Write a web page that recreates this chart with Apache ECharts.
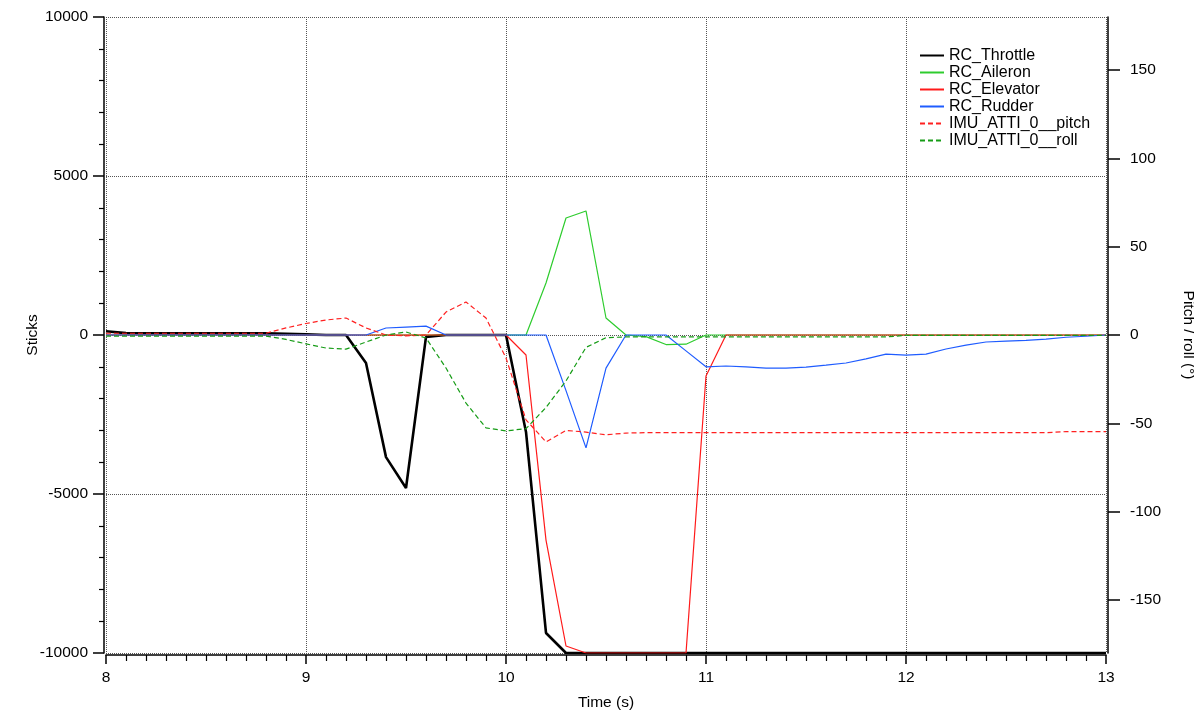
<!DOCTYPE html>
<html>
<head>
<meta charset="utf-8">
<script src="https://cdn.jsdelivr.net/npm/echarts@6/dist/echarts.min.js"></script>
<style>
  html, body { margin: 0; padding: 0; background: #fff; }
  #chart { width: 1194px; height: 711px; }
</style>
</head>
<body>
<div id="chart"></div>
<script>
// sample times (s)
const times = [
  8.0, 8.1, 8.2, 8.3, 8.4, 8.5, 8.6, 8.7, 8.8, 8.9,
  9.0, 9.1, 9.2, 9.3, 9.4, 9.5, 9.6, 9.7, 9.8, 9.9,
  10.0, 10.1, 10.2, 10.3, 10.4, 10.5, 10.6, 10.7, 10.8, 10.9,
  11.0, 11.1, 11.2, 11.3, 11.4, 11.5, 11.6, 11.7, 11.8, 11.9,
  12.0, 12.1, 12.2, 12.3, 12.4, 12.5, 12.6, 12.7, 12.8, 12.9,
  13.0
];

// sticks (left axis)
const rcThrottle = [
  120, 60, 50, 50, 50, 50, 50, 50, 50, 40,
  20, 0, 0, -880, -3840, -4810, -60, 0, 0, 0,
  0, -3050, -9370, -10000, -10000, -10000, -10000, -10000, -10000, -10000,
  -10000, -10000, -10000, -10000, -10000, -10000, -10000, -10000, -10000, -10000,
  -10000, -10000, -10000, -10000, -10000, -10000, -10000, -10000, -10000, -10000,
  -10000
];
const rcAileron = [
  0, 0, 0, 0, 0, 0, 0, 0, 0, 0,
  0, 0, 0, 0, 0, 0, 0, 0, 0, 0,
  0, 0, 1635, 3680, 3900, 535, 0, -50, -300, -290,
  0, 0, 0, 0, 0, 0, 0, 0, 0, 0,
  0, 0, 0, 0, 0, 0, 0, 0, 0, 0,
  0
];
const rcElevator = [
  0, 0, 0, 0, 0, 0, 0, 0, 0, 0,
  0, 0, 0, 0, 0, 0, 0, 0, 0, 0,
  0, -630, -6450, -9780, -10000, -10000, -10000, -10000, -10000, -10000,
  -1290, 0, 0, 0, 0, 0, 0, 0, 0, 0,
  0, 0, 0, 0, 0, 0, 0, 0, 0, 0,
  0
];
const rcRudder = [
  0, 0, 0, 0, 0, 0, 0, 0, 0, 0,
  0, 0, 0, 0, 220, 250, 280, 0, 0, 0,
  0, 0, 0, -1750, -3550, -1040, 0, 0, 0, -500,
  -1000, -975, -1000, -1040, -1040, -1010, -950, -880, -750, -600,
  -630, -600, -440, -320, -220, -190, -170, -130, -70, -40,
  0
];

// attitude (right axis, degrees)
const imuPitch = [
  1, 1, 1, 1, 1, 1, 1, 1, 1, 4,
  6.5, 8.5, 9.6, 4, 0, -0.5, 0, 13, 18.7, 9.6,
  -13, -48, -60.5, -54, -55, -56.5, -55.5, -55.3, -55.3, -55.3,
  -55.3, -55.3, -55.3, -55.3, -55.3, -55.3, -55.3, -55.3, -55.3, -55.3,
  -55.3, -55.3, -55.3, -55.3, -55.3, -55.3, -55.3, -55.3, -54.7, -54.7,
  -54.7
];
const imuRoll = [
  -0.6, -0.6, -0.6, -0.6, -0.6, -0.6, -0.6, -0.6, -0.6, -2.5,
  -5, -7.4, -8, -4, 0, 1.7, -1.7, -18.7, -38.5, -52.6,
  -54.3, -53, -41, -26, -7, -1.5, -1.1, -1.1, -1.1, -1.1,
  -1.1, -1.1, -1.1, -1.1, -1.1, -1.1, -1.1, -1.1, -1.1, -1.1,
  -0.2, -0.2, -0.2, -0.2, -0.2, -0.2, -0.2, -0.2, -0.2, -0.2,
  -0.2
];

const rightTicks = [-150, -100, -50, 0, 50, 100, 150];

const pairs = vals => times.map((t, i) => [t, vals[i]]);
const font = 'Liberation Sans, Arial, Helvetica, sans-serif';
const fs = 15.5;

const chart = echarts.init(document.getElementById('chart'));

const option = {
  animation: false,
  textStyle: { fontFamily: font },
  grid: { left: 106, right: 88, top: 17, bottom: 58, outerBoundsMode: 'none', containLabel: false },
  legend: {
    orient: 'vertical',
    left: 914,
    top: 42,
    itemWidth: 24,
    itemHeight: 14,
    itemGap: 0,
    itemStyle: { opacity: 0 },
    textStyle: { fontSize: 16, lineHeight: 17, color: '#000', fontFamily: font },
    data: ['RC_Throttle', 'RC_Aileron', 'RC_Elevator', 'RC_Rudder', 'IMU_ATTI_0__pitch', 'IMU_ATTI_0__roll']
  },
  xAxis: {
    type: 'value',
    min: 8,
    max: 13,
    interval: 1,
    offset: 2,
    name: 'Time (s)',
    nameLocation: 'middle',
    nameGap: 40,
    nameTextStyle: { fontSize: fs, color: '#000' },
    axisLine: { onZero: false, lineStyle: { color: '#000', width: 1.5 } },
    axisTick: { length: 9, lineStyle: { color: '#000', width: 1.5 } },
    minorTick: { show: true, splitNumber: 10, length: 6, lineStyle: { color: '#000', width: 1.2 } },
    axisLabel: { fontSize: fs, color: '#000', margin: 15, formatter: v => String(v) },
    splitLine: { show: true, lineStyle: { color: '#555', type: 'dotted', width: 1 } }
  },
  yAxis: [
    {
      type: 'value',
      min: -10000,
      max: 10000,
      interval: 5000,
      offset: 2,
      name: 'Sticks',
      nameLocation: 'middle',
      nameMoveOverlap: false,
      nameGap: 63,
      nameTextStyle: { fontSize: fs, color: '#000' },
      axisLine: { show: true, onZero: false, lineStyle: { color: '#000', width: 1.5 } },
      axisTick: { show: true, length: 11, lineStyle: { color: '#000', width: 1.5 } },
      minorTick: { show: true, splitNumber: 5, length: 5, lineStyle: { color: '#000', width: 1.2 } },
      axisLabel: { fontSize: fs, color: '#000', margin: 16, formatter: v => String(v) },
      splitLine: { show: true, lineStyle: { color: '#555', type: 'dotted', width: 1 } }
    },
    {
      type: 'value',
      position: 'right',
      min: -180,
      max: 180,
      offset: 2,
      name: 'Pitch / roll (°)',
      nameLocation: 'middle',
      nameMoveOverlap: false,
      nameRotate: -90,
      nameGap: 72,
      nameTextStyle: { fontSize: fs, color: '#000' },
      axisLine: { show: true, onZero: false, lineStyle: { color: '#000', width: 1.5 } },
      axisTick: { show: true, length: 12, customValues: rightTicks, lineStyle: { color: '#000', width: 1.5 } },
      axisLabel: { fontSize: fs, color: '#000', margin: 22, customValues: rightTicks, formatter: v => String(v) },
      splitLine: { show: false }
    }
  ],
  series: [
    {
      name: 'RC_Throttle', type: 'line', yAxisIndex: 0, symbol: 'none',
      lineStyle: { color: '#000', width: 2.6 }, itemStyle: { color: '#000' },
      data: pairs(rcThrottle), z: 3
    },
    {
      name: 'RC_Aileron', type: 'line', yAxisIndex: 0, symbol: 'none',
      lineStyle: { color: '#2ecc2e', width: 1.2 }, itemStyle: { color: '#2ecc2e' },
      data: pairs(rcAileron), z: 4
    },
    {
      name: 'RC_Elevator', type: 'line', yAxisIndex: 0, symbol: 'none',
      lineStyle: { color: '#ff1a1a', width: 1.2 }, itemStyle: { color: '#ff1a1a' },
      data: pairs(rcElevator), z: 4
    },
    {
      name: 'RC_Rudder', type: 'line', yAxisIndex: 0, symbol: 'none',
      lineStyle: { color: '#1f5cff', width: 1.2 }, itemStyle: { color: '#1f5cff' },
      data: pairs(rcRudder), z: 4
    },
    {
      name: 'IMU_ATTI_0__pitch', type: 'line', yAxisIndex: 1, symbol: 'none',
      lineStyle: { color: '#ff2020', width: 1.2, type: [5, 3] }, itemStyle: { color: '#ff2020' },
      data: pairs(imuPitch), z: 4
    },
    {
      name: 'IMU_ATTI_0__roll', type: 'line', yAxisIndex: 1, symbol: 'none',
      lineStyle: { color: '#169c16', width: 1.2, type: [5, 3] }, itemStyle: { color: '#169c16' },
      data: pairs(imuRoll), z: 4
    }
  ]
};

chart.setOption(option);
</script>
</body>
</html>
